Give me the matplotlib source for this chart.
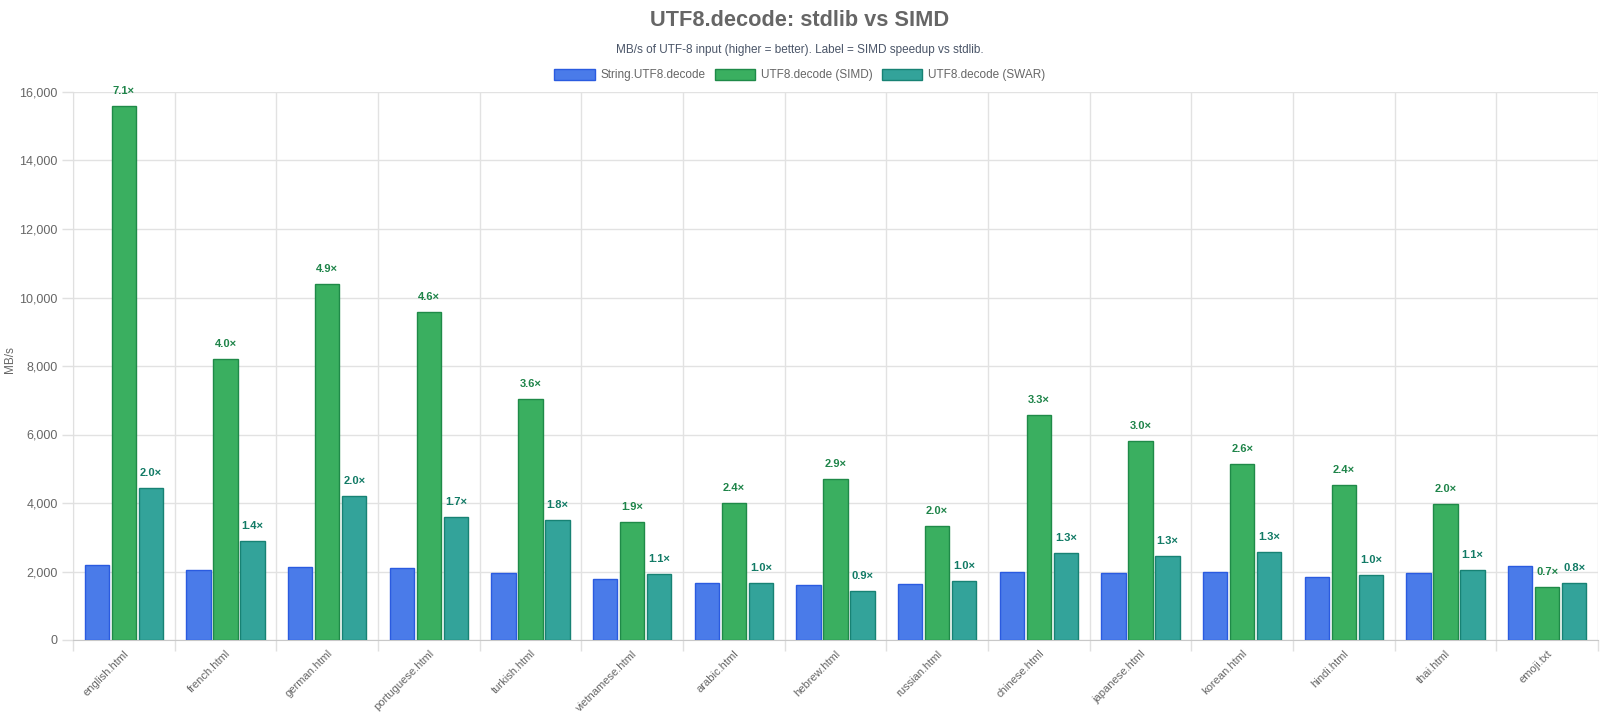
import matplotlib
matplotlib.use("Agg")
import matplotlib.pyplot as plt
import numpy as np
from matplotlib.patches import Patch

categories = ["english.html", "french.html", "german.html", "portuguese.html", "turkish.html",
              "vietnamese.html", "arabic.html", "hebrew.html", "russian.html", "chinese.html",
              "japanese.html", "korean.html", "hindi.html", "thai.html", "emoji.txt"]
stdlib = [2190, 2036, 2123, 2094, 1948, 1772, 1655, 1597, 1636, 1977, 1957, 1977, 1840, 1957, 2162]
simd = [15600, 8200, 10400, 9577, 7031, 3438, 3993, 4694, 3330, 6573, 5823, 5142, 4518, 3963, 1558]
swar = [4432, 2901, 4197, 3593, 3515, 1928, 1665, 1431, 1714, 2542, 2454, 2561, 1899, 2055, 1655]
simd_labels = ["7.1×", "4.0×", "4.9×", "4.6×", "3.6×", "1.9×", "2.4×", "2.9×", "2.0×", "3.3×",
               "3.0×", "2.6×", "2.4×", "2.0×", "0.7×"]
swar_labels = ["2.0×", "1.4×", "2.0×", "1.7×", "1.8×", "1.1×", "1.0×", "0.9×", "1.0×", "1.3×",
               "1.3×", "1.3×", "1.0×", "1.1×", "0.8×"]
series_names = ["String.UTF8.decode", "UTF8.decode (SIMD)", "UTF8.decode (SWAR)"]
yticks = [0, 2000, 4000, 6000, 8000, 10000, 12000, 14000, 16000]

plt.rcParams['font.family'] = ['Liberation Sans', 'DejaVu Sans']

fills = ["#4a7be9", "#3aaf60", "#33a39a"]
edges = ["#2a5be0", "#1f8a48", "#178274"]
label_colors = ["#1e8449", "#117a65"]

fig = plt.figure(figsize=(16, 7.2), dpi=100)
ax = fig.add_axes([73/1600, 1 - 640/720, (1598 - 73)/1600, (640 - 92)/720])

x = np.arange(len(categories))
slot = 0.8 / 3
bw = slot * 0.9
for i, vals in enumerate([stdlib, simd, swar]):
    ax.bar(x + (i - 1) * slot, vals, width=bw, color=fills[i], edgecolor=edges[i],
           linewidth=1.0, zorder=3)

off = 15 / 0.03423  # pixels -> data units
for xi, v, lab in zip(x, simd, simd_labels):
    ax.text(xi, v + off, lab, ha='center', va='center', fontsize=8, fontweight='bold',
            color=label_colors[0], zorder=4)
for xi, v, lab in zip(x, swar, swar_labels):
    ax.text(xi + slot, v + off, lab, ha='center', va='center', fontsize=8, fontweight='bold',
            color=label_colors[1], zorder=4)

ax.set_xlim(-0.5, len(categories) - 0.5)
ax.set_ylim(0, 16000)
ax.set_yticks(yticks)
ax.set_yticklabels([f"{t:,}" for t in yticks])
ax.set_xticks(x)
ax.set_xticklabels(categories, rotation=45, ha='right', rotation_mode='anchor')
ax.set_xticks(np.arange(-0.5, len(categories), 1.0), minor=True)

ax.tick_params(axis='x', which='major', length=0, pad=6, labelsize=8, labelcolor='#666666')
ax.tick_params(axis='x', which='minor', length=8, color='#e0e0e0', width=1)
ax.tick_params(axis='y', length=8, color='#e0e0e0', width=1, labelsize=9, labelcolor='#666666', pad=3)

ax.grid(True, axis='y', color='#e2e2e2', linewidth=1, zorder=0)
ax.grid(True, axis='x', which='minor', color='#e2e2e2', linewidth=1, zorder=0)
ax.grid(False, axis='x', which='major')
ax.set_axisbelow(True)
for s in ['top', 'right']:
    ax.spines[s].set_visible(False)
ax.spines['left'].set_color('#e0e0e0')
ax.spines['bottom'].set_color('#c8c8c8')

fig.text(10/1600, 1 - 360/720, "MB/s", rotation=90, ha='center', va='center',
         fontsize=8.5, color='#666666')

fig.text(0.5, 1 - 20/720, "UTF8.decode: stdlib vs SIMD", ha='center', va='center',
         fontsize=15.7, fontweight='bold', color='#666666')
fig.text(0.5, 1 - 50/720, "MB/s of UTF-8 input (higher = better). Label = SIMD speedup vs stdlib.",
         ha='center', va='center', fontsize=8.5, color='#4a5568')

handles = [Patch(facecolor=fills[i], edgecolor=edges[i], linewidth=1) for i in range(3)]
fig.legend(handles, series_names, loc='center', bbox_to_anchor=(0.5, 1 - 75/720), ncol=3,
           frameon=False, fontsize=8.5, handlelength=3.4, handleheight=1.1,
           columnspacing=0.8, handletextpad=0.5, labelcolor='#666666')

fig.savefig("out.png", dpi=100)
